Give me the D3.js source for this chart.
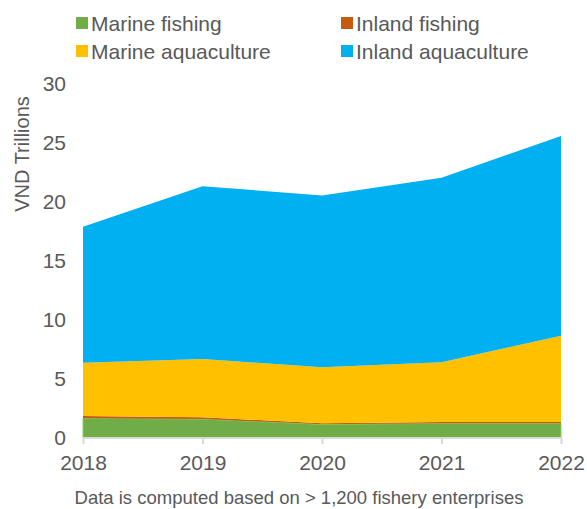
<!DOCTYPE html>
<html><head><meta charset="utf-8">
<script src="https://cdn.jsdelivr.net/npm/d3@7"></script>
<style>body{margin:0;background:#fff}svg{display:block;font-family:"Liberation Sans",Arial,sans-serif}</style>
</head><body><svg id="c" width="587" height="509"></svg>
<script>
const years = [2018, 2019, 2020, 2021, 2022];
const seriesNames = ["Marine fishing", "Inland fishing", "Marine aquaculture", "Inland aquaculture"];
const marineFishing = [1.68, 1.60, 1.16, 1.24, 1.24];
const inlandFishing = [0.18, 0.15, 0.10, 0.12, 0.12];
const marineAquaculture = [4.52, 4.95, 4.73, 5.05, 7.31];
const inlandAquaculture = [11.52, 14.64, 14.57, 15.65, 16.93];
const yTicks = [0, 5, 10, 15, 20, 25, 30];
const colors = ["#70AD47", "#C55A11", "#FFC000", "#00B0F0"];
const footnote = "Data is computed based on > 1,200 fishery enterprises";

const rows = years.map((y, i) => ({
  year: y,
  "Marine fishing": marineFishing[i],
  "Inland fishing": inlandFishing[i],
  "Marine aquaculture": marineAquaculture[i],
  "Inland aquaculture": inlandAquaculture[i]
}));

const FONT = "Liberation Sans, Arial, sans-serif";
const svg = d3.select("#c");
const x = d3.scalePoint().domain(years).range([83, 561]);
const y = d3.scaleLinear().domain([0, 30]).range([438, 84]);
const stack = d3.stack().keys(seriesNames)(rows);
const area = d3.area().x(d => x(d.data.year)).y0(d => y(d[0])).y1(d => y(d[1]));

svg.append("g").selectAll("path").data(stack).join("path")
  .attr("d", area).attr("fill", (d, i) => colors[i])
  .attr("stroke", (d, i) => i === 0 ? "#8BD05A" : "none").attr("stroke-width", 1);

// x axis
const xa = svg.append("g").attr("transform", "translate(0,438)")
  .call(d3.axisBottom(x).tickSize(6).tickPadding(11).tickFormat(d3.format("d")));
xa.select(".domain").attr("stroke", "#D9D9D9").attr("stroke-width", 2).attr("d", "M83,0H561");
xa.selectAll(".tick line").attr("stroke", "#D9D9D9").attr("stroke-width", 2);
xa.selectAll(".tick text").attr("fill", "#595959").attr("font-size", 21).style("font-family", FONT);

// y axis
const ya = svg.append("g").attr("transform", "translate(66,0)")
  .call(d3.axisLeft(y).tickValues(yTicks).tickSize(0).tickPadding(0));
ya.select(".domain").remove();
ya.selectAll(".tick text").attr("fill", "#595959").attr("font-size", 21).style("font-family", FONT);

svg.append("text").attr("transform", "translate(29,154) rotate(-90)")
  .attr("text-anchor", "middle").attr("fill", "#595959").attr("font-size", 20).text("VND Trillions");

// legend
const legPos = [[76, 23], [341, 23], [76, 51], [341, 51]];
const lg = svg.append("g").selectAll("g").data(seriesNames).join("g")
  .attr("transform", (d, i) => `translate(${legPos[i][0]},${legPos[i][1]})`);
lg.append("rect").attr("x", 0).attr("y", -6).attr("width", 12).attr("height", 12)
  .attr("fill", (d, i) => colors[i]);
lg.append("text").attr("x", 15).attr("y", 7.5).attr("fill", "#595959").attr("font-size", 21).text(d => d);

svg.append("text").attr("x", 299).attr("y", 504).attr("text-anchor", "middle")
  .attr("fill", "#595959").attr("font-size", 18.5).text(footnote);
</script></body></html>
